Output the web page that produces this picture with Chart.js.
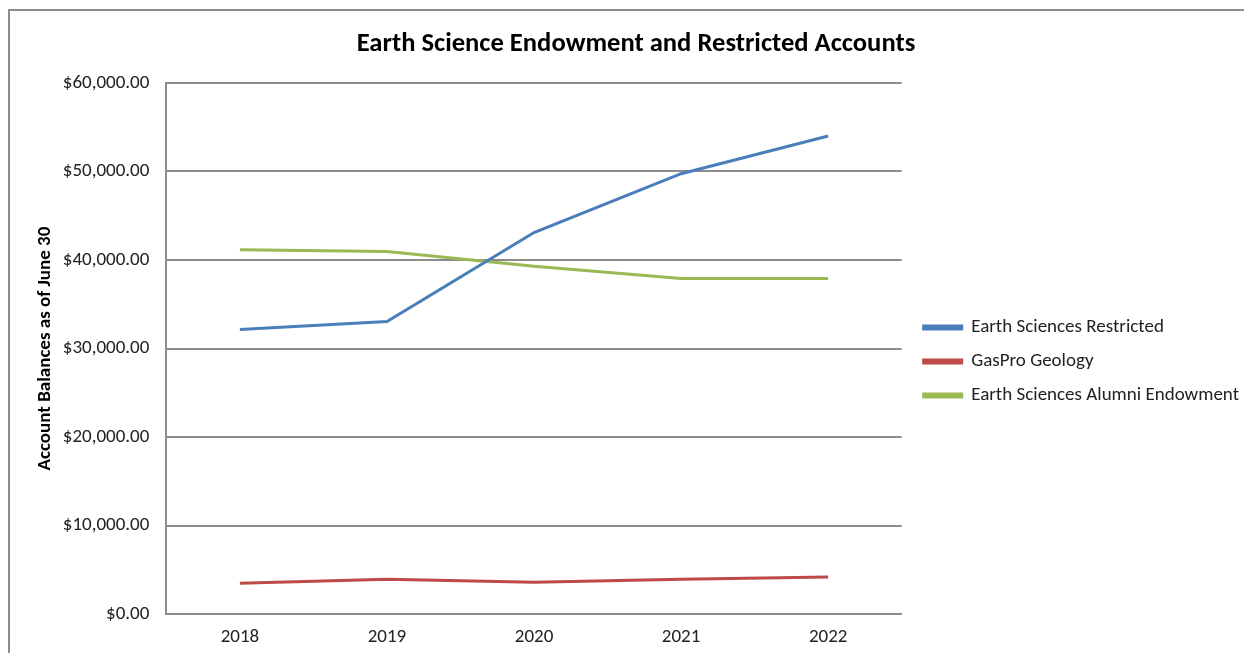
<!DOCTYPE html>
<html>
<head>
<meta charset="utf-8">
<script src="https://cdn.jsdelivr.net/npm/chart.js@4.4.1/dist/chart.umd.min.js"></script>
<style>
  html, body { margin: 0; padding: 0; background: #fff; overflow: hidden; }
  #frame {
    position: absolute; left: 8px; top: 9px; width: 1300px; height: 700px;
    border: 2px solid #8c8c8c; box-sizing: border-box;
  }
  #wrap { position: absolute; left: 0; top: 0; width: 1244px; height: 653px; }
</style>
</head>
<body>
<div id="frame"></div>
<div id="wrap"><canvas id="chart"></canvas></div>
<script>
// ── Earth science account balances, as of June 30 ──────────

const years = ["2018", "2019", "2020", "2021", "2022"];

const restricted = [32150, 33050, 43100, 49750, 54000];
const gasPro = [3500, 3950, 3600, 3950, 4200];
const alumni = [41150, 40950, 39300, 37900, 37900];

const yTicks = [0, 10000, 20000, 30000, 40000, 50000, 60000];

const FONT = "Carlito, Lato, 'Open Sans', sans-serif";
const gridColor = "#8c8c8c";

const money = (v) =>
  "$" + v.toLocaleString("en-US", { minimumFractionDigits: 2, maximumFractionDigits: 2 });

function series(label, data, color) {
  return {
    label,
    data,
    borderColor: color,
    backgroundColor: color,
    borderWidth: 3,
    pointRadius: 0,
    tension: 0,
  };
}

// nudge the legend a little right of the plot, like the original
const legendNudge = {
  id: "legendNudge",
  afterLayout(chart) {
    chart.legend.left += 7;
    chart.legend.right += 7;
  },
};

new Chart(document.getElementById("chart"), {
  type: "line",
  data: {
    labels: years,
    datasets: [
      series("Earth Sciences Restricted", restricted, "#4a7ebb"),
      series("GasPro Geology", gasPro, "#be4b48"),
      series("Earth Sciences Alumni Endowment", alumni, "#98b954"),
    ],
  },
  plugins: [legendNudge],
  options: {
    responsive: true,
    maintainAspectRatio: false,
    animation: false,
    layout: { padding: { left: 30, right: 2, top: 24, bottom: -8 } },
    plugins: {
      title: {
        display: true,
        text: "Earth Science Endowment and Restricted Accounts",
        color: "#000",
        font: { family: FONT, size: 26.6, weight: "bold" },
        padding: { top: 4, bottom: 23 },
      },
      legend: {
        position: "right",
        maxWidth: 342,
        title: { display: true, text: " ", font: { size: 10 }, padding: { top: 0, bottom: 26 } },
        labels: {
          color: "#222",
          font: { family: FONT, size: 19 },
          boxWidth: 38,
          boxHeight: 3,
          padding: 15,
        },
      },
      tooltip: { enabled: false },
    },
    scales: {
      x: {
        offset: true,
        grid: { display: false, drawTicks: false },
        border: { color: gridColor, width: 2 },
        ticks: { color: "#222", font: { family: FONT, size: 19 }, padding: 12 },
      },
      y: {
        min: 0,
        max: 60000,
        afterBuildTicks: (axis) => {
          axis.ticks = yTicks.map((v) => ({ value: v }));
        },
        afterFit: (axis) => {
          axis.width -= 17;
        },
        grid: { color: gridColor, lineWidth: 2, drawTicks: false },
        border: { color: gridColor, width: 2 },
        ticks: {
          color: "#222",
          font: { family: FONT, size: 19 },
          padding: 17,
          callback: (v) => money(v),
        },
        title: {
          display: true,
          text: "Account Balances as of June 30",
          color: "#000",
          font: { family: FONT, size: 19, weight: "bold" },
          padding: { top: 4, bottom: 6 },
        },
      },
    },
  },
});
</script>
</body>
</html>
